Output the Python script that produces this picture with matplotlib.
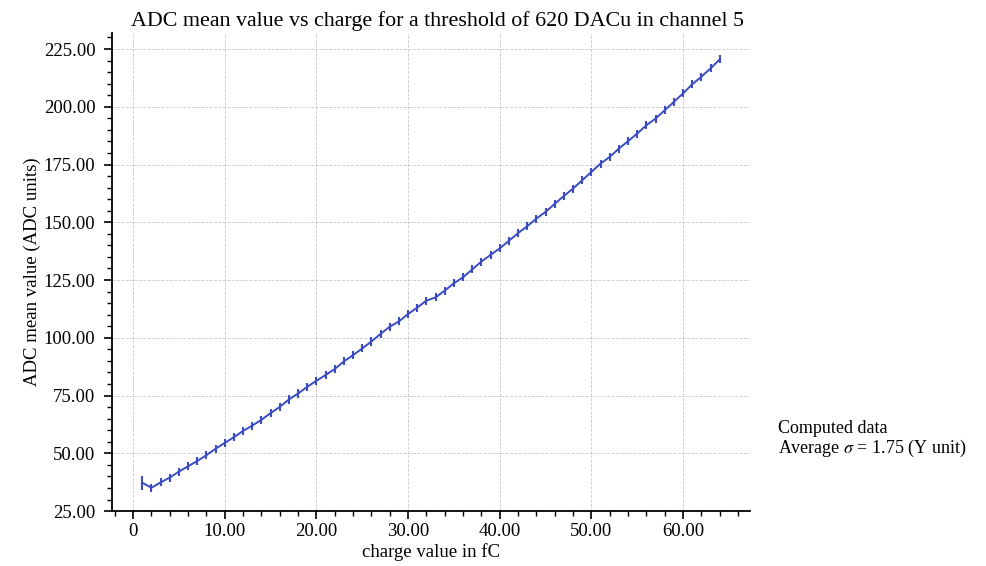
import numpy as np
import matplotlib
matplotlib.use('Agg')
import matplotlib.pyplot as plt
from matplotlib.ticker import MultipleLocator, FormatStrFormatter

plt.rcParams['font.family'] = ['Liberation Serif', 'DejaVu Serif']
plt.rcParams['mathtext.fontset'] = 'stix'

# charge (fC) and ADC mean value
charge = list(range(1, 65))
adc_mean = [37.3, 35.1, 37.4, 39.5, 42.1, 44.4, 46.7, 49.2, 52.0, 54.5,
            57.0, 59.7, 62.0, 64.5, 67.4, 70.1, 73.3, 75.9, 78.8, 81.4,
            83.9, 86.5, 89.8, 92.5, 95.4, 98.4, 101.7, 104.8, 107.1, 110.3,
            113.1, 116.1, 117.5, 120.4, 123.6, 126.2, 129.6, 133.0, 135.9, 138.7,
            142.0, 145.3, 148.3, 151.6, 154.5, 158.0, 161.4, 164.6, 168.2, 171.8,
            175.4, 178.3, 181.9, 185.1, 188.4, 192.0, 194.9, 198.5, 202.1, 205.8,
            209.7, 213.0, 216.6, 220.5]
adc_err = [3.0] + [1.75] * 63

fig = plt.figure(figsize=(9.86, 5.66), dpi=100)
ax = fig.add_axes([0.1136, 0.097, 0.647, 0.845])

col = '#3a4cc0'
ax.errorbar(charge, adc_mean, yerr=adc_err, color=col, ecolor=col,
            linewidth=1.4, elinewidth=1.5, capsize=0)

ax.set_xlim(-2.3, 67.3)
ax.set_ylim(25, 232)
ax.xaxis.set_major_locator(MultipleLocator(10))
ax.xaxis.set_minor_locator(MultipleLocator(2))
ax.yaxis.set_major_locator(MultipleLocator(25))
ax.yaxis.set_minor_locator(MultipleLocator(5))
ax.yaxis.set_major_formatter(FormatStrFormatter('%.2f'))
ax.xaxis.set_major_formatter(lambda v, p: '0' if v == 0 else '%.2f' % v)

for s in ['top', 'right']:
    ax.spines[s].set_visible(False)
for s in ['left', 'bottom']:
    ax.spines[s].set_linewidth(1.3)
ax.tick_params(which='major', length=6, width=1.2, labelsize=13.5)
ax.tick_params(axis='y', which='major', pad=6)
ax.tick_params(axis='x', which='major', pad=2.5)
ax.tick_params(which='minor', length=3.5, width=1.0)

ax.grid(True, which='major', linestyle='--', linewidth=0.6, color='#bbbbbb', alpha=0.8)

ax.set_title('ADC mean value vs charge for a threshold of 620 DACu in channel 5',
             fontsize=15.8, pad=5, x=0.51)
ax.set_xlabel('charge value in fC', fontsize=13.5, labelpad=2)
ax.set_ylabel('ADC mean value (ADC units)', fontsize=13.5, labelpad=2)

fig.text(0.789, 0.258, 'Computed data\nAverage $\\sigma$ = 1.75 (Y unit)', fontsize=13,
         ha='left', va='top', linespacing=1.05)

fig.savefig('out.png', dpi=100)
